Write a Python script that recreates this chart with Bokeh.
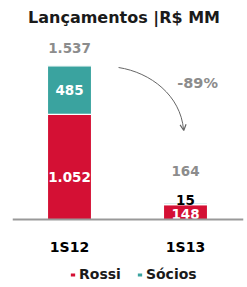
from bokeh.plotting import figure
from bokeh.models import ColumnDataSource, Range1d, Span, Legend, LegendItem, Arrow, OpenHead
from bokeh.core.properties import value
from bokeh.embed import file_html
from bokeh.resources import INLINE

# ---- data ----
categories = ["1S12", "1S13"]
rossi = [1052, 148]
socios = [485, 15]
totals = [1537, 164]
variation = "-89%"
title_text = "Lançamentos |R$ MM"
series_names = ["Rossi", "Sócios"]

RED = "#D41034"
TEAL = "#3AA39F"
GRAY = "#8C8C8C"
FONT = "DejaVu Sans"

def br(v):
    return f"{v:,}".replace(",", ".")

xs = list(range(len(categories)))
src = ColumnDataSource(dict(x=xs, cat=categories, rossi=rossi, socios=socios))

p = figure(width=247, height=287, output_backend="svg", toolbar_location=None,
           x_range=Range1d(-0.4914, 1.5), y_range=Range1d(-680, 2190),
           x_axis_location=None, y_axis_location=None,
           min_border=0, min_border_left=12, min_border_right=4, outline_line_color=None)
p.grid.visible = False

rs = p.vbar_stack(["rossi", "socios"], x="x", width=0.38, color=[RED, TEAL],
                  line_color="white", line_width=1.2, source=src)

p.add_layout(Span(location=0, dimension="width", line_color="#999999", line_width=2))

# title
p.text(x=[0.47], y=[2025], text=[title_text], text_font=value(FONT), text_font_style="bold",
       text_font_size="16px", text_align="center", text_baseline="middle", text_color="#1a1a1a")

NUM = "13.5px"
# totals
tot_off = [175, 326]
p.text(x=xs, y=[t + o for t, o in zip(totals, tot_off)], text=[br(t) for t in totals],
       text_font=value(FONT), text_font_style="bold", text_font_size=NUM,
       text_align="center", text_baseline="middle", text_color=GRAY)

# rossi labels
p.text(x=xs, y=[r * 0.4 for r in rossi], text=[br(r) for r in rossi],
       text_font=value(FONT), text_font_style="bold", text_font_size=NUM,
       text_align="center", text_baseline="middle", text_color="white")

# socios labels
p.text(x=[xs[0]], y=[rossi[0] + socios[0] / 2], text=[br(socios[0])],
       text_font=value(FONT), text_font_style="bold", text_font_size=NUM,
       text_align="center", text_baseline="middle", text_color="white")
p.text(x=[xs[1]], y=[rossi[1] + socios[1] + 37], text=[br(socios[1])],
       text_font=value(FONT), text_font_style="bold", text_font_size=NUM,
       text_align="center", text_baseline="middle", text_color="black")

# category labels
p.text(x=xs, y=[-270] * len(xs), text=categories,
       text_font=value(FONT), text_font_style="bold", text_font_size="14px",
       text_align="center", text_baseline="middle", text_color="black")

# variation arrow
p.bezier(x0=[0.423], y0=[1520], x1=[0.983], y1=[900], cx0=[0.70], cy0=[1470],
         cx1=[0.957], cy1=[1240], line_color="#666666", line_width=1)
p.add_layout(Arrow(x_start=0.978, y_start=960, x_end=0.985, y_end=890,
                   line_alpha=0,
                   end=OpenHead(size=6, line_color="#666666", line_width=1.2)))
p.text(x=[1.104], y=[1370], text=[variation], text_font=value(FONT), text_font_style="bold",
       text_font_size="14.5px", text_align="center", text_baseline="middle", text_color=GRAY)

legend = Legend(items=[LegendItem(label=series_names[0], renderers=[rs[0]]),
                       LegendItem(label=series_names[1], renderers=[rs[1]])],
                orientation="horizontal", location=(57, 5),
                glyph_width=7, glyph_height=5, label_standoff=3, spacing=15,
                padding=0, margin=0, label_height=16,
                label_text_font=FONT, label_text_font_style="bold", label_text_font_size="14px",
                label_text_color="#1a1a1a",
                border_line_alpha=0, background_fill_alpha=0)
p.add_layout(legend)

open("out.html", "w").write(file_html(p, INLINE))
